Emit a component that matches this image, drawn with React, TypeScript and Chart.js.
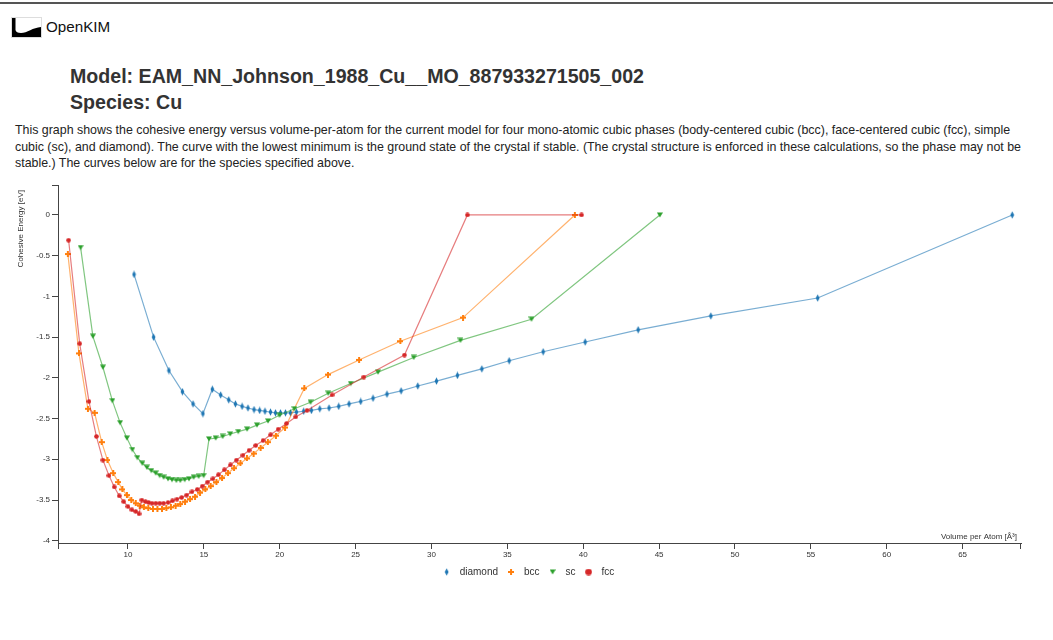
import React, { useEffect, useRef } from 'react';
import { Chart, registerables } from 'chart.js';

Chart.register(...registerables);

// ---- Data (volume per atom [Å³], cohesive energy [eV]) ----
const seriesNames = ['diamond', 'bcc', 'sc', 'fcc'];
const seriesColors = ['#1f77b4', '#ff7f0e', '#2ca02c', '#d62728'];
const lineColors = ['rgba(31,119,180,0.6)', 'rgba(255,127,14,0.6)', 'rgba(44,160,44,0.6)', 'rgba(214,39,40,0.6)'];

const diamondV = [10.40, 11.69, 12.70, 13.59, 14.29, 14.94, 15.56, 16.11, 16.64, 17.08, 17.52, 17.91, 18.31, 18.68, 19.03, 19.39, 19.72, 20.05, 20.38, 20.71, 21.10, 21.58, 22.09, 22.64, 23.25, 23.89, 24.57, 25.34, 26.15, 27.07, 28.00, 29.10, 30.33, 31.71, 33.32, 35.12, 37.36, 40.13, 43.62, 48.41, 55.45, 68.27];
const diamondE = [-0.73, -1.50, -1.91, -2.17, -2.32, -2.44, -2.14, -2.21, -2.27, -2.32, -2.35, -2.37, -2.39, -2.40, -2.41, -2.42, -2.43, -2.43, -2.43, -2.43, -2.42, -2.41, -2.40, -2.38, -2.37, -2.35, -2.32, -2.29, -2.25, -2.20, -2.16, -2.10, -2.04, -1.97, -1.89, -1.79, -1.68, -1.56, -1.41, -1.24, -1.02, 0.0];

const bccV = [6.04, 6.77, 7.36, 7.80, 8.27, 8.65, 9.03, 9.36, 9.63, 9.93, 10.22, 10.51, 10.77, 11.05, 11.34, 11.65, 11.94, 12.24, 12.53, 12.83, 13.14, 13.45, 13.76, 14.09, 14.42, 14.75, 15.10, 15.45, 15.83, 16.20, 16.59, 16.99, 17.41, 17.84, 18.28, 18.74, 19.22, 19.75, 20.35, 21.62, 23.18, 25.23, 27.95, 32.08, 39.45];
const bccE = [-0.48, -1.70, -2.38, -2.43, -2.79, -3.01, -3.17, -3.28, -3.37, -3.44, -3.50, -3.54, -3.57, -3.59, -3.60, -3.61, -3.61, -3.61, -3.60, -3.59, -3.57, -3.55, -3.52, -3.49, -3.46, -3.41, -3.37, -3.33, -3.28, -3.23, -3.17, -3.11, -3.05, -2.99, -2.93, -2.86, -2.79, -2.71, -2.61, -2.13, -1.96, -1.78, -1.55, -1.26, 0.0];

const scV = [6.88, 7.69, 8.35, 8.97, 9.48, 9.93, 10.29, 10.62, 10.95, 11.25, 11.54, 11.83, 12.09, 12.35, 12.64, 12.90, 13.19, 13.45, 13.74, 14.02, 14.33, 14.66, 14.99, 15.34, 15.78, 16.24, 16.74, 17.27, 17.85, 18.50, 19.23, 19.98, 20.97, 22.03, 23.20, 24.68, 26.48, 28.83, 31.91, 36.59, 45.05];
const scE = [-0.40, -1.49, -1.87, -2.28, -2.55, -2.74, -2.88, -2.98, -3.05, -3.10, -3.14, -3.17, -3.20, -3.22, -3.24, -3.25, -3.26, -3.26, -3.25, -3.24, -3.22, -3.21, -3.20, -2.75, -2.74, -2.72, -2.69, -2.66, -2.63, -2.58, -2.53, -2.46, -2.38, -2.30, -2.19, -2.07, -1.93, -1.75, -1.54, -1.28, 0.0];

const fccV = [6.09, 6.82, 7.43, 7.92, 8.35, 8.75, 9.10, 9.43, 9.72, 10.00, 10.26, 10.51, 10.73, 10.91, 11.15, 11.36, 11.58, 11.83, 12.09, 12.35, 12.64, 12.93, 13.23, 13.54, 13.87, 14.22, 14.57, 14.90, 15.25, 15.60, 15.96, 16.35, 16.75, 17.15, 17.58, 17.98, 18.42, 18.90, 19.40, 19.90, 20.45, 21.05, 21.80, 23.45, 25.54, 28.22, 32.37, 39.89];
const fccE = [-0.31, -1.58, -2.29, -2.72, -3.01, -3.20, -3.34, -3.45, -3.52, -3.58, -3.62, -3.64, -3.67, -3.50, -3.52, -3.53, -3.54, -3.54, -3.54, -3.54, -3.53, -3.51, -3.49, -3.47, -3.44, -3.40, -3.37, -3.33, -3.28, -3.24, -3.19, -3.13, -3.07, -3.01, -2.95, -2.89, -2.83, -2.77, -2.70, -2.63, -2.56, -2.48, -2.40, -2.21, -1.99, -1.72, 0.0, 0.0];

const xMin = 5.39;
const xMax = 68.85;
const yMin = -4.028;
const yMax = 0.368;
const xStep = 5;
const yStep = 0.5;

const xTitle = 'Volume per Atom [Å³]';
const yTitle = 'Cohesive Energy [eV]';

const FONT = '"Liberation Sans", Arial, Helvetica, sans-serif';

type Kind = 'diamond' | 'cross' | 'triangleDown' | 'circle';
const seriesKinds: Kind[] = ['diamond', 'cross', 'triangleDown', 'circle'];

function makeSymbol(kind: Kind, color: string, big: boolean): HTMLCanvasElement {
  const c = document.createElement('canvas');
  const ctx = c.getContext('2d')!;
  if (kind === 'diamond') {
    c.width = 5; c.height = 8;
    ctx.fillStyle = color;
    ctx.beginPath();
    ctx.moveTo(2.5, 0.3); ctx.lineTo(4.4, 4); ctx.lineTo(2.5, 7.7); ctx.lineTo(0.6, 4);
    ctx.closePath(); ctx.fill();
  } else if (kind === 'cross') {
    c.width = 6; c.height = 6;
    ctx.fillStyle = color;
    ctx.fillRect(2, 0, 2, 6);
    ctx.fillRect(0, 2, 6, 2);
  } else if (kind === 'triangleDown') {
    c.width = 6; c.height = 6;
    ctx.fillStyle = color;
    ctx.beginPath();
    ctx.moveTo(0, 0.6); ctx.lineTo(6, 0.6); ctx.lineTo(3, 5.6);
    ctx.closePath(); ctx.fill();
  } else {
    const s = big ? 7 : 5;
    c.width = s; c.height = s;
    ctx.fillStyle = color;
    ctx.beginPath();
    ctx.arc(s / 2, s / 2, s / 2 - 0.2, 0, Math.PI * 2);
    ctx.fill();
  }
  return c;
}

const axisDecor = {
  id: 'axisDecor',
  afterLayout(chart: any) {
    // centre the legend on the whole canvas (d3-style page layout)
    const lg = chart.legend;
    if (lg) {
      const shift = (chart.width / 2) - (lg.left + lg.right) / 2;
      lg.left += shift;
      lg.right += shift;
    }
  },
  afterDraw(chart: any) {
    const { ctx, chartArea } = chart;
    const { left, right, top, bottom } = chartArea;
    ctx.save();
    ctx.strokeStyle = '#444';
    ctx.lineWidth = 1;
    ctx.beginPath();
    ctx.moveTo(left - 6, Math.round(top) + 0.5);
    ctx.lineTo(left, Math.round(top) + 0.5);
    ctx.moveTo(Math.round(right) - 0.5, bottom);
    ctx.lineTo(Math.round(right) - 0.5, bottom + 6);
    ctx.moveTo(Math.round(left) + 0.5, bottom);
    ctx.lineTo(Math.round(left) + 0.5, bottom + 6);
    ctx.stroke();
    ctx.fillStyle = '#333';
    ctx.font = `8px ${FONT}`;
    ctx.textAlign = 'right';
    ctx.textBaseline = 'middle';
    ctx.fillText(xTitle, right - 4, bottom - 6);
    ctx.translate(20.5, top + 5);
    ctx.rotate(-Math.PI / 2);
    ctx.fillText(yTitle, 0, 0);
    ctx.restore();
  },
};

function zip(v: number[], e: number[]) {
  return v.map((x, i) => ({ x, y: e[i] }));
}

export default function App() {
  const canvasRef = useRef<HTMLCanvasElement | null>(null);

  useEffect(() => {
    const canvas = canvasRef.current;
    if (!canvas) return;
    const pointSyms = seriesKinds.map((k, i) => makeSymbol(k, seriesColors[i], false));
    const legendSyms = seriesKinds.map((k, i) => makeSymbol(k, seriesColors[i], true));
    const allData = [zip(diamondV, diamondE), zip(bccV, bccE), zip(scV, scE), zip(fccV, fccE)];
    const drawOrder = [3, 2, 1, 0];

    const axisCommon = {
      grid: { drawOnChartArea: false, drawTicks: true, tickLength: 6, color: '#444', lineWidth: 1 },
      border: { display: true, color: '#444', width: 1 },
    };

    const chart = new Chart(canvas, {
      type: 'line',
      data: {
        datasets: seriesNames.map((name, i) => ({
          label: name,
          data: allData[i],
          borderColor: lineColors[i],
          backgroundColor: seriesColors[i],
          borderWidth: 1.2,
          pointStyle: pointSyms[i] as any,
          pointRadius: 3,
          fill: false,
          tension: 0,
          order: drawOrder[i],
        })),
      },
      options: {
        animation: false,
        responsive: false,
        events: [],
        layout: { padding: { left: 8, right: 32, top: 10, bottom: 8 } },
        plugins: {
          tooltip: { enabled: false },
          legend: {
            position: 'bottom',
            labels: {
              usePointStyle: true,
              pointStyleWidth: 16,
              padding: 5,
              color: '#333',
              font: { size: 10, family: FONT },
              generateLabels: () =>
                seriesNames.map((name, i) => ({
                  text: name,
                  pointStyle: legendSyms[i] as any,
                  fillStyle: seriesColors[i],
                  strokeStyle: seriesColors[i],
                  lineWidth: 0,
                  hidden: false,
                  datasetIndex: i,
                  fontColor: '#333',
                })),
            },
          },
        },
        scales: {
          x: {
            type: 'linear',
            min: xMin,
            max: xMax,
            afterFit: (s: any) => { s.height = 19; },
            ...axisCommon,
            ticks: {
              stepSize: xStep,
              includeBounds: false,
              autoSkip: false,
              maxRotation: 0,
              padding: 1,
              color: '#333',
              font: { size: 8, family: FONT },
              callback: (v: any) => String(v),
            },
          },
          y: {
            type: 'linear',
            min: yMin,
            max: yMax,
            afterFit: (s: any) => { s.width = 50; },
            ...axisCommon,
            ticks: {
              stepSize: yStep,
              includeBounds: false,
              autoSkip: false,
              padding: 2,
              color: '#333',
              font: { size: 8, family: FONT },
              callback: (v: any) => String(v),
            },
          },
        },
      } as any,
      plugins: [axisDecor],
    });
    return () => chart.destroy();
  }, []);

  return (
    <div style={{ position: 'absolute', left: 0, top: 0, width: 1053, height: 640, background: '#fff', fontFamily: FONT, color: '#2b2b2b', overflow: 'hidden' }}>
      <div style={{ position: 'absolute', left: 0, top: 2, width: 1053, height: 2, background: '#555' }} />
      <svg style={{ position: 'absolute', left: 11, top: 17 }} width={31} height={21} viewBox="0 0 31 21">
        <rect x={0.5} y={0.5} width={30} height={20} fill="none" stroke="#ddd" strokeWidth={1} />
        <path d="M1,1 H4.5 V13 Q5,16 10,16 C16,16 22,10.5 30,10 V20 H1 Z" fill="#000" />
      </svg>
      <div style={{ position: 'absolute', left: 46, top: 18, fontSize: 15.2, lineHeight: '18px', whiteSpace: 'nowrap', color: '#111' }}>OpenKIM</div>
      <div style={{ position: 'absolute', left: 70, top: 63, fontSize: 19.6, fontWeight: 'bold', lineHeight: '26px', whiteSpace: 'nowrap', color: '#333' }}>
        <div>Model: EAM_NN_Johnson_1988_Cu__MO_887933271505_002</div>
        <div>Species: Cu</div>
      </div>
      <div style={{ position: 'absolute', left: 15, top: 122, fontSize: 12.4, lineHeight: '16.5px', whiteSpace: 'nowrap', color: '#222' }}>
        <div>This graph shows the cohesive energy versus volume-per-atom for the current model for four mono-atomic cubic phases (body-centered cubic (bcc), face-centered cubic (fcc), simple</div>
        <div>cubic (sc), and diamond). The curve with the lowest minimum is the ground state of the crystal if stable. (The crystal structure is enforced in these calculations, so the phase may not be</div>
        <div>stable.) The curves below are for the species specified above.</div>
      </div>
      <canvas ref={canvasRef} width={1053} height={420} style={{ position: 'absolute', left: 0, top: 175, width: 1053, height: 420, display: 'block' }} />
    </div>
  );
}
